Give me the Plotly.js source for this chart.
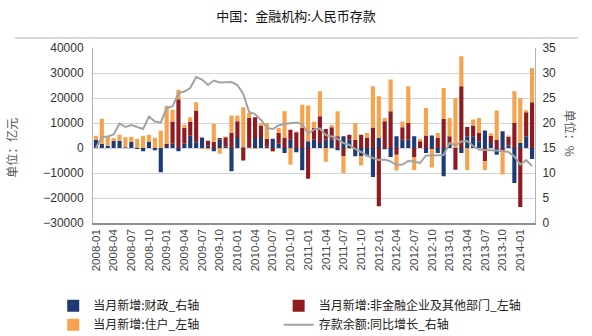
<!DOCTYPE html>
<html>
<head>
<meta charset="utf-8">
<script src="https://cdn.plot.ly/plotly-3.0.1.min.js"></script>
<style>html,body{margin:0;padding:0;background:#fff;}#chart{width:592px;height:336px;}</style>
</head>
<body>
<div id="chart"></div>
<script>
const months = [
"2008-01","2008-02","2008-03","2008-04","2008-05","2008-06","2008-07","2008-08","2008-09","2008-10","2008-11","2008-12",
"2009-01","2009-02","2009-03","2009-04","2009-05","2009-06","2009-07","2009-08","2009-09","2009-10","2009-11","2009-12",
"2010-01","2010-02","2010-03","2010-04","2010-05","2010-06","2010-07","2010-08","2010-09","2010-10","2010-11","2010-12",
"2011-01","2011-02","2011-03","2011-04","2011-05","2011-06","2011-07","2011-08","2011-09","2011-10","2011-11","2011-12",
"2012-01","2012-02","2012-03","2012-04","2012-05","2012-06","2012-07","2012-08","2012-09","2012-10","2012-11","2012-12",
"2013-01","2013-02","2013-03","2013-04","2013-05","2013-06","2013-07","2013-08","2013-09","2013-10","2013-11","2013-12",
"2014-01","2014-02","2014-03"];

const tickLabels = ["2008-01","2008-04","2008-07","2008-10","2009-01","2009-04","2009-07","2009-10",
"2010-01","2010-04","2010-07","2010-10","2011-01","2011-04","2011-07","2011-10",
"2012-01","2012-04","2012-07","2012-10","2013-01","2013-04","2013-07","2013-10","2014-01"];

// 当月新增:财政 (亿元)
const fiscal = [3300,1700,900,2900,2900,300,2400,-400,-1300,2400,-900,-9700,
800,1700,-1300,1700,4900,2300,4000,900,-1300,3300,500,-9300,
4000,300,300,4000,4000,500,3700,1700,-2000,3300,-1700,-8900,
2700,3300,2000,3300,3300,-900,4700,3300,-3300,-3300,-3300,-11600,
4000,-500,-3600,4700,3300,3300,4700,0,-2000,5000,-2000,-11300,
2000,0,-2000,4700,4700,2700,7000,2000,-2700,6700,1000,-14000,
2000,4700,-4400];

// 当月新增:非金融企业及其他部门 (亿元)
const enterprise = [null,null,null,null,null,null,null,null,null,null,null,null,
900,8900,19500,6300,5700,12700,200,2000,2500,700,3800,6000,
6700,-5000,11700,8300,5000,3200,-1300,4300,4000,4000,6300,8000,
-12300,4800,10700,4300,5000,4700,-3300,2000,3300,5300,4000,8000,
-23300,10700,14700,-2700,5000,6700,-3600,2700,5000,-500,4000,11600,
2700,-8700,24700,3700,4300,3300,-5300,2900,3300,-1700,3500,10000,
-23600,9600,18300];

// 当月新增:住户 (亿元)
const household = [1600,10000,3500,1100,2400,4000,2100,3700,4900,2900,4100,6900,
15200,4700,3800,1300,1700,3300,-400,-600,7200,-2300,300,7000,
2300,16000,2000,-400,800,6300,-300,2000,10700,-6700,300,9300,
14300,2400,10000,-5500,900,10000,-6700,-300,6700,-3700,2000,16700,
16700,1300,12700,-6300,2300,14700,-5300,900,11000,-7300,2000,12400,
7300,20000,12000,-8900,2400,6000,-3600,1000,11700,-8900,500,12700,
18000,800,13700];

// 存款余额:同比增长 (%)
const growth = [15.0,17.2,17.3,17.7,19.9,19.2,19.6,19.2,18.8,21.3,20.3,20.1,
23.0,23.3,26.0,26.3,27.0,29.2,28.7,27.6,28.5,28.1,28.1,28.2,
27.6,25.8,22.2,21.8,20.6,19.0,18.8,19.5,19.8,20.0,20.1,19.8,
17.8,18.7,18.9,17.6,17.3,16.8,16.0,15.6,14.8,14.2,13.5,13.0,
12.6,12.7,12.3,11.6,11.7,12.4,12.3,12.0,13.5,13.5,13.5,13.6,
16.0,15.5,16.3,16.4,15.4,14.7,14.6,14.6,14.5,14.4,14.2,13.3,
11.7,12.6,11.4];

const names = ["当月新增:财政_右轴","当月新增:非金融企业及其他部门_左轴","当月新增:住户_左轴","存款余额:同比增长_右轴"];
const FONT = "Liberation Sans, Arial, Noto Sans CJK SC, sans-serif";
const CJK = "Noto Sans CJK SC, sans-serif";

const traces = [
  {type:"bar", x:months, y:fiscal, name:names[0], marker:{color:"#1f3b76"}, yaxis:"y", legend:"legend"},
  {type:"bar", x:months, y:enterprise, name:names[1], marker:{color:"#8e1b1f"}, yaxis:"y", legend:"legend2"},
  {type:"bar", x:months, y:household, name:names[2], marker:{color:"#f7a24d"}, yaxis:"y", legend:"legend"},
  {type:"scatter", mode:"lines", x:months, y:growth, name:names[3], yaxis:"y2", legend:"legend2",
   line:{color:"#a3a3a3", width:2}}
];

const legendCommon = {orientation:"v", yanchor:"top", xanchor:"left", itemwidth:30,
  font:{family:CJK, size:12, color:"#222"}, bgcolor:"rgba(0,0,0,0)", traceorder:"normal", tracegroupgap:0};

const layout = {
  width:592, height:336,
  margin:{l:93, r:57, t:48, b:113, autoexpand:false},
  paper_bgcolor:"#ffffff", plot_bgcolor:"#ffffff",
  font:{family:FONT, size:12, color:"#333"},
  barmode:"relative", bargap:0.3,
  showlegend:true,
  title:{text:"中国：金融机构:人民币存款", font:{family:CJK, size:13, color:"#111"},
         x:0.5, xref:"container", y:0.95, yref:"container", yanchor:"middle"},
  xaxis:{type:"category", tickmode:"array", tickvals:tickLabels, ticktext:tickLabels,
         tickangle:-90, tickfont:{size:11.5, color:"#444"}, showgrid:false, automargin:false,
         showline:true, linecolor:"#8a8f99", linewidth:1.5, ticks:"", range:[-0.5,74.5]},
  yaxis:{range:[-30000,40000], dtick:10000, tick0:0, tickformat:"d", showgrid:true, gridcolor:"#d2d4d8", gridwidth:1,
         zeroline:false, showline:true, linecolor:"#b0b4ba", linewidth:1, ticks:"", automargin:false,
         tickfont:{size:12, color:"#333"}, ticklabelstandoff:6},
  yaxis2:{range:[0,35], dtick:5, overlaying:"y", side:"right", showgrid:false, zeroline:false, automargin:false,
          showline:true, linecolor:"#b0b4ba", linewidth:1, ticks:"", tickfont:{size:12, color:"#333"},
          ticklabelstandoff:4},
  legend:Object.assign({}, legendCommon, {x:-0.09, y:-0.39}),
  legend2:Object.assign({}, legendCommon, {x:0.42, y:-0.39}),
  shapes:[{type:"line", xref:"paper", yref:"paper", x0:-0.177, x1:1.097, y0:1.057, y1:1.057,
           line:{color:"#d8dadd", width:2}}],
  annotations:[
    {text:"单位：亿元", xref:"paper", yref:"paper", x:-0.183, y:0.43, showarrow:false, textangle:-90,
     font:{family:CJK, size:12, color:"#555"}, xanchor:"center", yanchor:"middle"},
    {text:"单位：%", xref:"paper", yref:"paper", x:1.079, y:0.51, showarrow:false, textangle:90,
     font:{family:CJK, size:12, color:"#555"}, xanchor:"center", yanchor:"middle"}
  ]
};

Plotly.newPlot("chart", traces, layout, {displayModeBar:false, staticPlot:true});
</script>
</body>
</html>
